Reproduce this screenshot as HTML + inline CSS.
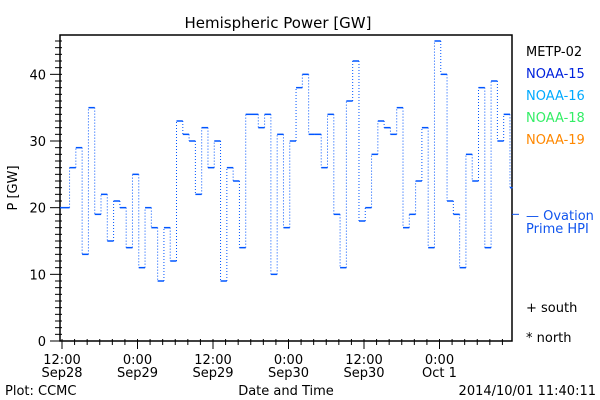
<!DOCTYPE html>
<html><head><meta charset="utf-8"><style>
body{margin:0;background:#fff}
svg{display:block;font-family:"DejaVu Sans","Liberation Sans",sans-serif}
</style></head><body>
<svg id="chart" width="600" height="400" viewBox="0 0 600 400" xmlns="http://www.w3.org/2000/svg">
<rect width="600" height="400" fill="#fff"/>
<text x="278" y="28" font-size="15" text-anchor="middle">Hemispheric Power [GW]</text>
<g id="axes"></g>
<g id="series"></g>
<text transform="translate(17,188) rotate(-90)" font-size="13" text-anchor="middle">P [GW]</text>
<text x="286" y="395" font-size="13" text-anchor="middle">Date and Time</text>
<text x="5" y="395" font-size="13">Plot: CCMC</text>
<text x="596" y="395" font-size="13" text-anchor="end">2014/10/01 11:40:11</text>
<g font-size="13">
<text x="526" y="56" fill="#000">METP-02</text>
<text x="526" y="78" fill="#0022dd">NOAA-15</text>
<text x="526" y="100" fill="#00aaff">NOAA-16</text>
<text x="526" y="122" fill="#33ee66">NOAA-18</text>
<text x="526" y="144" fill="#ff8800">NOAA-19</text>
<text x="526" y="220" fill="#1155ee">— Ovation</text>
<text x="526" y="233" fill="#1155ee">Prime HPI</text>
<text x="526" y="312" fill="#000">+ south</text>
<text x="526" y="342" fill="#000">* north</text>
</g>
</svg>
<script>
const values = [20,26,29,13,35,19,22,15,21,20,14,25,11,20,17,9,17,12,33,31,30,22,32,26,30,9,26,24,14,34,34,32,34,10,31,17,30,38,40,31,31,26,34,19,11,36,42,18,20,28,33,32,31,35,17,19,24,32,14,45,40,21,19,11,28,24,38,14,39,30,34,23];
const xTickLabels = [["12:00","Sep28"],["0:00","Sep29"],["12:00","Sep29"],["0:00","Sep30"],["12:00","Sep30"],["0:00","Oct 1"]];
const yTickLabels = ["0","10","20","30","40"];
const ovationLevel = [19];

const L=60,R=512,T=35,B=341;
const tMin=-0.3,tMax=71.6;
const yMax=45.9;
const xs=t=>62+t*(75.5/12);
const ys=v=>B-v*(B-T)/yMax;
const NS="http://www.w3.org/2000/svg";
function mk(tag,attrs,parent){const e=document.createElementNS(NS,tag);for(const k in attrs)e.setAttribute(k,attrs[k]);parent.appendChild(e);return e;}
const axes=document.getElementById('axes'), ser=document.getElementById('series');
const frame=mk('rect',{x:L,y:T,width:R-L,height:B-T,fill:'none',stroke:'#000','stroke-width':1.5},axes);


for(let v=0;v<=45;v++){
  const y=ys(v), major=v%10===0;
  const t=mk('line',{x1:major?50:55,x2:62,y1:y,y2:y,stroke:'#000','stroke-width':1},axes);
  
  
}
yTickLabels.forEach((s,i)=>{
  const t=mk('text',{x:46,y:ys(i*10)+5,'font-size':13,'text-anchor':'end'},axes);t.textContent=s;
  
  
});
for(let h=0;h<=tMax;h+=2){
  const x=xs(h), major=h%12===0;
  const t=mk('line',{x1:x,x2:x,y1:B-2,y2:major?B+8:B+4,stroke:'#000','stroke-width':1},axes);
  
  
}
xTickLabels.forEach((p,i)=>{
  const x=xs(i*12);
  p.forEach((s,j)=>{
    const t=mk('text',{x:x,y:364+j*13,'font-size':13,'text-anchor':'middle'},axes);t.textContent=s;
    
    
  });
});
const om=mk('line',{x1:R,x2:R+7,y1:ys(ovationLevel[0]),y2:ys(ovationLevel[0]),stroke:'#1155ee','stroke-width':1},axes);


values.forEach((v,i)=>{
  const t0=i===0?tMin:i+0.2, t1=Math.min(tMax,i+1.2);
  const s=mk('line',{x1:xs(t0),x2:xs(t1),y1:ys(v),y2:ys(v),stroke:'#0055ff','stroke-width':1.5},ser);
  
  
  if(i>0){
    const c=mk('line',{x1:xs(t0),x2:xs(t0),y1:ys(values[i-1]),y2:ys(v),stroke:'#0055ff','stroke-width':1,'stroke-dasharray':'1 2'},ser);
    
    
  }
});
</script>
</body></html>
